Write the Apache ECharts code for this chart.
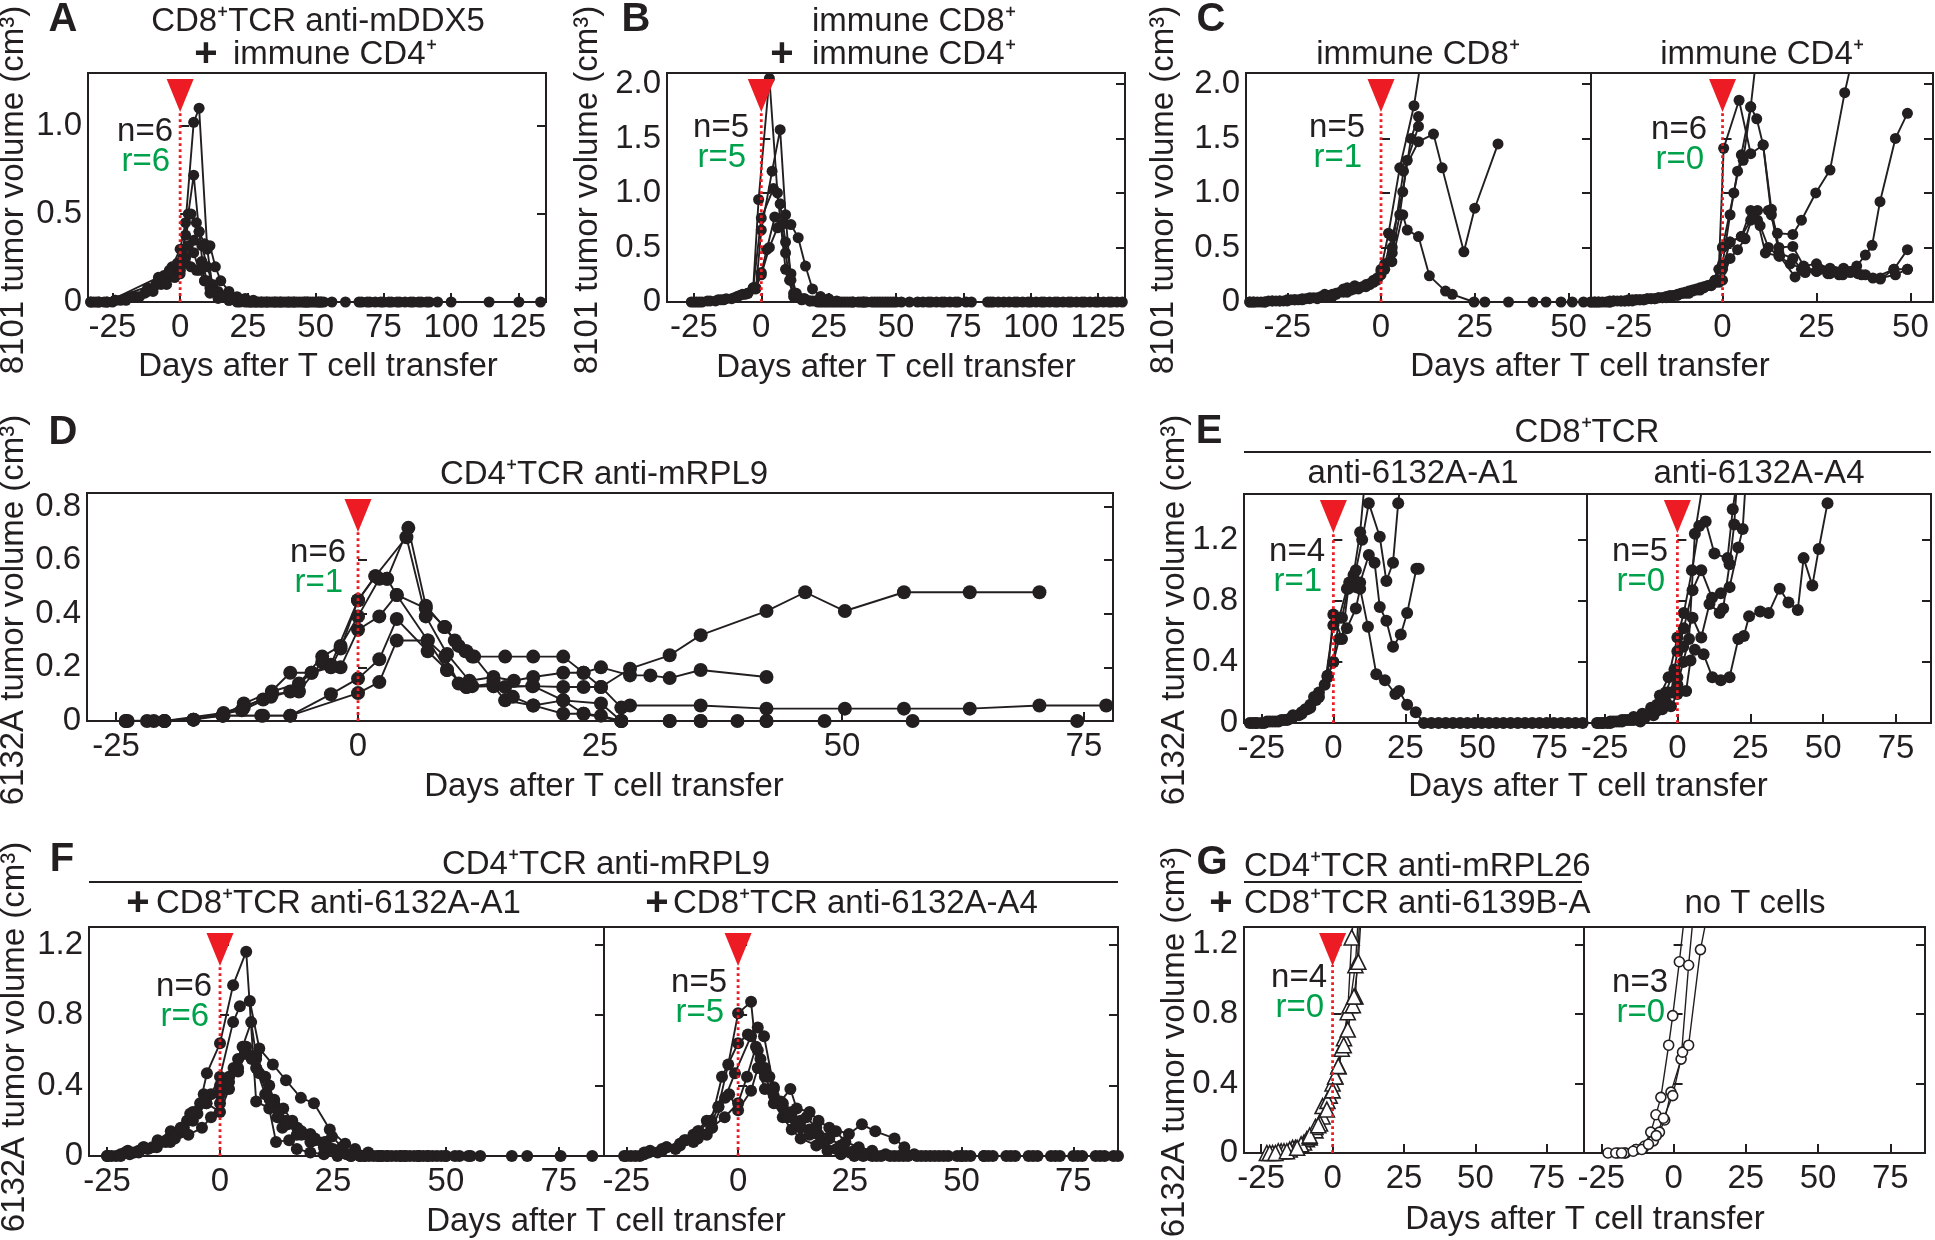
<!DOCTYPE html>
<html>
<head>
<meta charset="utf-8">
<title>Tumor volume after T cell transfer</title>
<script src="https://cdn.jsdelivr.net/npm/echarts@6/dist/echarts.min.js"></script>
<style>
  html, body { margin: 0; padding: 0; background: #fff; }
  #main { width: 1935px; height: 1240px; }
</style>
</head>
<body>
<div id="main"></div>
<script>
const chart = echarts.init(document.getElementById('main'));

const FONT = '"Liberation Sans", Arial, Helvetica, sans-serif';
const INK = '#231f20';
const RED = '#ed1c24';
const GREEN = '#00a14b';

// x ticks (days after transfer)
const daysLong = [-25, 0, 25, 50, 75, 100, 125];
const daysShort = [-25, 0, 25, 50];
const daysMid = [-25, 0, 25, 50, 75];

// y ticks (cm3)
const volA = [0, 0.5, 1.0];
const volBC = [0, 0.5, 1.0, 1.5, 2.0];
const volD = [0, 0.2, 0.4, 0.6, 0.8];
const volEFG = [0, 0.4, 0.8, 1.2];

// one row per mouse: [day, tumor volume cm3]
const miceA = [
  [[-33,0],[-30,0],[-24,0.01],[-20,0.02],[-16,0.03],[-13,0.05],[-9,0.1],[-6,0.15],[-3,0.2],[0,0.3],[2,0.45],[5,1.02],[7,1.1],[10,0.3],[12,0.08],[15,0.03],[18,0.01],[22,0],[27,0],[32,0],[37,0],[42,0],[47,0],[52,0],[61,0],[66,0],[70,0],[74,0],[78,0],[81,0],[85,0],[89,0],[92,0],[95,0],[100,0],[114,0],[125,0],[133,0]],
  [[-32,0],[-27,0],[-22,0.01],[-17,0.03],[-12,0.08],[-8,0.13],[-4,0.18],[-1,0.22],[1,0.3],[3,0.5],[5,0.72],[7,0.4],[9,0.12],[11,0.05],[14,0.02],[18,0.01],[21,0],[24,0],[28,0],[31,0],[34,0],[38,0],[41,0],[44,0],[48,0],[51,0]],
  [[-31,0],[-24,0.01],[-18,0.03],[-12,0.06],[-7,0.1],[-3,0.15],[0,0.2],[2,0.38],[4,0.5],[6,0.45],[8,0.32],[10,0.2],[12,0.1],[14,0.06],[17,0.04],[20,0.02],[23,0.01],[26,0],[29,0],[33,0],[36,0],[40,0],[43,0],[46,0],[49,0],[53,0],[67,0],[69,0],[72,0],[75,0],[77,0]],
  [[-33,0],[-27,0],[-8,0.14],[-4,0.16],[0,0.18],[2,0.25],[5,0.35],[7,0.4],[9,0.33],[11,0.32],[13,0.2],[15,0.12],[18,0.06],[21,0.03],[24,0.02],[27,0.01],[30,0],[35,0],[39,0],[45,0],[50,0],[80,0],[83,0],[86,0],[88,0],[91,0]],
  [[-28,0],[-6,0.12],[-2,0.14],[0,0.16],[1,0.25],[3,0.32],[5,0.28],[7,0.18],[9,0.12],[11,0.08],[14,0.05],[17,0.03],[20,0.02],[25,0],[28,0],[32,0],[37,0],[42,0],[47,0],[52,0]],
  [[-30,0],[-25,0],[-20,0.01],[-15,0.03],[-10,0.06],[-5,0.1],[-2,0.14],[0,0.18],[2,0.22],[4,0.2],[6,0.18],[8,0.23],[10,0.12],[12,0.06],[15,0.03],[19,0.02],[23,0.01],[26,0],[30,0],[35,0],[40,0],[46,0],[51,0],[56,0]]
];

const miceB = [
  [[-26,0],[-19,0.01],[-14,0.02],[-9,0.05],[-5,0.08],[-3,0.13],[-1,0.94],[3,2.05],[6,1.0],[9,0.3],[12,0.05],[15,0.02],[18,0.01],[22,0],[26,0],[30,0],[34,0],[38,0],[42,0],[46,0],[50,0]],
  [[-24,0],[-17,0.01],[-11,0.03],[-6,0.07],[-2,0.12],[0,0.66],[4,1.2],[7,1.58],[9,0.8],[11,0.2],[13,0.06],[16,0.03],[20,0.01],[24,0],[29,0],[34,0],[39,0],[44,0],[49,0],[58,0],[63,0],[68,0],[73,0],[78,0],[85,0],[90,0],[95,0],[100,0],[105,0],[110,0],[115,0],[120,0],[125,0],[130,0]],
  [[-22,0],[-15,0.02],[-8,0.06],[-3,0.13],[0,0.77],[4.5,1.04],[7,0.9],[9,0.55],[11,0.26],[13,0.08],[16,0.03],[19,0.01],[23,0],[27,0],[31,0],[36,0],[41,0],[47,0],[52,0],[60,0],[65,0],[70,0],[76,0],[86,0],[92,0],[97,0],[102,0],[107,0],[112,0],[117,0],[122,0],[127,0],[132,0]],
  [[-25,0],[-20,0.01],[-13,0.03],[-7,0.07],[-3,0.12],[0,0.27],[2,0.48],[5,0.78],[7.5,0.71],[9,0.45],[10.5,0.2],[12,0.08],[15,0.03],[18,0.01],[21,0],[25,0],[28,0],[32,0],[37,0],[43,0],[48,0],[55,0],[62,0],[67,0],[72,0],[84,0],[88,0],[94,0],[99,0],[104,0],[109,0],[114,0],[119,0],[124,0],[129,0],[134,0]],
  [[-23,0],[-16,0.02],[-10,0.04],[-5,0.08],[-2,0.13],[0,0.25],[3,0.5],[6,0.68],[8.5,0.72],[11,0.71],[13.7,0.59],[16.4,0.33],[19,0.12],[22,0.05],[25,0.03],[28,0.01],[33,0],[38,0],[45,0]]
];

const miceC8 = [
  [[-35,0],[-32,0],[-29,0.01],[-26,0.01],[-23,0.02],[-20,0.03],[-17,0.04],[-14,0.06],[-11,0.09],[-8,0.11],[-5,0.14],[-2,0.2],[0,0.3],[2,0.63],[5,1.23],[8.8,1.8],[11.5,2.4]],
  [[-34,0],[-31,0],[-28,0.01],[-25,0.02],[-22,0.02],[-19,0.04],[-16,0.05],[-13,0.07],[-10,0.12],[-7,0.15],[-4,0.16],[-1,0.22],[1,0.35],[3,0.6],[5.8,1.01],[8,1.5],[10,1.7]],
  [[-33,0],[-30,0.01],[-27,0.01],[-24,0.02],[-21,0.03],[-18,0.04],[-15,0.07],[-12,0.08],[-9,0.13],[-6,0.13],[-3,0.17],[0,0.25],[3,0.5],[6,1.2],[10,1.47],[14,1.54],[16.3,1.23],[22.1,0.46],[25,0.86],[31.2,1.45]],
  [[-35,0],[-31,0],[-27,0.01],[-23,0.02],[-19,0.03],[-15,0.05],[-12,0.07],[-9,0.09],[-6,0.12],[-3,0.16],[-1,0.2],[1,0.3],[2.9,0.37],[5.8,0.8],[7,0.66],[10,0.6],[12.9,0.24],[17.2,0.1],[19,0.07],[24.8,0],[27.7,0],[34,0],[40.5,0],[44,0],[48,0],[51,0],[54,0]],
  [[-34,0],[-29,0.01],[-25,0.01],[-21,0.02],[-17,0.03],[-13,0.05],[-10,0.09],[-7,0.12],[-4,0.14],[-2,0.18],[0,0.28],[3,0.45],[5,0.8],[7,1.3],[10,1.61]]
];

const miceC4 = [
  [[-35,0],[-32,0],[-29,0.01],[-26,0.01],[-23,0.02],[-20,0.03],[-17,0.04],[-14,0.05],[-11,0.08],[-8,0.11],[-5,0.14],[-2,0.2],[0,0.5],[3,1.0],[5,1.35],[7.5,1.79],[9.5,2.4]],
  [[-34,0],[-30,0],[-27,0.01],[-24,0.02],[-21,0.02],[-18,0.03],[-15,0.05],[-12,0.07],[-9,0.1],[-6,0.13],[-3,0.16],[-1,0.3],[0.3,1.41],[4.4,1.85],[7.5,1.36],[10.8,1.44],[13,0.8],[15,0.45],[18.7,0.4],[21,0.3],[25,0.28],[28.6,0.26],[32,0.25],[36,0.26],[40,0.22],[45.6,0.3],[49.2,0.3]],
  [[-33,0],[-29,0.01],[-25,0.01],[-22,0.02],[-19,0.03],[-16,0.04],[-13,0.06],[-10,0.08],[-7,0.11],[-4,0.15],[-2,0.2],[0,0.35],[2,0.8],[4,1.2],[5.5,1.3],[7.5,1.79],[9.1,1.68],[10.8,1.44],[13,0.85],[15,0.5],[18.7,0.51],[21.6,0.33],[25,0.35],[28.6,0.31],[32.2,0.31],[35.7,0.33],[38,0.43],[39.8,0.52],[41.9,0.92],[46,1.5],[49.2,1.73]],
  [[-35,0],[-31,0],[-28,0.01],[-25,0.02],[-22,0.02],[-19,0.03],[-16,0.04],[-13,0.06],[-10,0.09],[-7,0.12],[-4,0.15],[-1,0.2],[0,0.3],[2,0.55],[5,0.6],[7.5,0.84],[9.3,0.84],[12.2,0.84],[14.6,0.63],[18.7,0.62],[21,0.75],[24.8,1.0],[28.6,1.21],[32.5,1.92],[35,2.3]],
  [[-34,0],[-30,0.01],[-26,0.01],[-23,0.02],[-20,0.03],[-17,0.04],[-14,0.06],[-11,0.08],[-8,0.1],[-5,0.13],[-2,0.18],[0,0.5],[2,0.55],[5,0.6],[7.5,0.75],[9.3,0.75],[11.4,0.45],[15.2,0.42],[19.3,0.23],[22,0.27],[25,0.28],[28,0.26],[31,0.25],[34,0.27],[37,0.25],[42,0.21],[45.6,0.3],[49.2,0.48]],
  [[-33,0],[-30,0],[-27,0.01],[-24,0.01],[-21,0.02],[-18,0.03],[-15,0.04],[-12,0.06],[-9,0.08],[-6,0.11],[-3,0.15],[-1,0.18],[0,0.2],[2,0.4],[4,0.48],[6,0.58],[8,0.78],[10,0.7],[12.2,0.5],[15,0.42],[18,0.35],[22,0.3],[26,0.3],[30,0.28],[34,0.28],[38,0.25],[42,0.22],[46,0.25],[49.2,0.3]]
];

const miceD = [
  [[-24,0],[-20,0],[-14,0.02],[-10,0.02],[-7,0.02],[0,0.104],[2.2,0.145],[4,0.3],[7.2,0.3],[9.2,0.19],[11.2,0.127],[14,0.13],[18,0.13],[21.2,0.127],[23.3,0.127],[25.1,0.127],[28.1,0.195],[32.2,0.245],[35.4,0.32],[42.2,0.41],[46.2,0.48],[50.3,0.41],[56.4,0.48],[63.2,0.48],[70.4,0.48]],
  [[-21.8,0],[-17,0.005],[-13.9,0.02],[-11.8,0.065],[-8.9,0.11],[-6.1,0.14],[-3.7,0.24],[-1.8,0.28],[0,0.39],[2.2,0.53],[3,0.53],[5.2,0.72],[7,0.43],[8.9,0.35],[10,0.3],[11.1,0.26],[11.8,0.24],[15.2,0.24],[18.1,0.24],[21.2,0.24],[23.3,0.18],[25.1,0.2],[28.1,0.17],[30.2,0.17],[32.2,0.16],[35.4,0.19],[42.2,0.164]],
  [[-23.8,0],[-20,0],[-13.9,0.03],[-9.8,0.08],[-7,0.18],[-4.8,0.18],[-2.8,0.21],[0,0.45],[1.8,0.54],[5,0.685],[7,0.39],[9.2,0.25],[11.5,0.15],[14,0.164],[16.1,0.15],[18.1,0.164],[21.2,0.18],[23.3,0.18],[25.1,0.127],[27.2,0.05],[28.1,0.058],[35.4,0.058],[42.2,0.046],[50.3,0.046],[56.4,0.046],[63.2,0.046],[70.4,0.058],[77.3,0.058]],
  [[-21.1,0],[-17,0.005],[-11.8,0.05],[-8.9,0.1],[-6.1,0.11],[-3.7,0.22],[-1.8,0.2],[0,0.34],[2.2,0.39],[4,0.47],[7.2,0.3],[9,0.24],[10.4,0.14],[11.8,0.13],[14,0.13],[15.2,0.077],[18.1,0.058],[21.2,0.077],[23.3,0.027],[27.2,0],[32.2,0],[35.4,0],[39.2,0],[42.2,0],[48.2,0]],
  [[-20,0],[-14,0.02],[-9.8,0.02],[-7,0.02],[-2.8,0.1],[0,0.158],[2.2,0.23],[4,0.38],[7.2,0.26],[9.2,0.19],[11.2,0.127],[14,0.14],[15.2,0.127],[18.1,0.13],[21.2,0.077],[25.1,0.065],[27.2,0],[32.2,0],[35.4,0],[42.2,0],[57.3,0],[74.3,0]],
  [[-24,0],[-17,0.005],[-12,0.04],[-9,0.09],[-7,0.11],[-4.8,0.18],[-2.8,0.2],[-1.8,0.27],[0,0.45],[1.8,0.54],[3,0.53],[4,0.47],[7,0.42],[9,0.35],[10.4,0.28],[11.2,0.26],[12,0.24],[14,0.15],[16,0.09],[18.1,0.058],[21.2,0.027],[23.3,0.027],[25.1,0.02],[27.2,0]]
];

const miceEA1 = [
  [[-29,0],[-25,0],[-21,0.01],[-17,0.02],[-14,0.04],[-11,0.07],[-8,0.12],[-5,0.2],[-2,0.3],[0,0.4],[2,0.69],[4.7,0.88],[7,0.97],[9.3,1.25],[11,1.6]],
  [[-28,0],[-24,0],[-20,0.01],[-16,0.02],[-12,0.05],[-9,0.09],[-6,0.15],[-3,0.25],[0,0.64],[3,0.69],[5.5,0.92],[7.8,1.0],[10,1.2],[12.3,1.44],[16.1,1.22],[18.4,0.93],[20.7,1.05],[22.5,1.44],[24,1.7]],
  [[-27,0],[-23,0.01],[-19,0.01],[-15,0.03],[-11,0.06],[-8,0.1],[-5,0.17],[-2,0.31],[0,0.71],[3,0.55],[5.2,0.88],[7.8,0.89],[9.3,0.92],[12.3,1.1],[14.3,1.05],[16.1,0.76],[18.4,0.67],[20.7,0.5],[23.4,0.58],[25.6,0.72],[28.8,1.01],[29.6,1.01]],
  [[-26.5,0],[-22,0.01],[-18,0.02],[-14,0.05],[-9.7,0.09],[-6.7,0.17],[-2,0.31],[0,0.4],[2,0.55],[4.7,0.62],[7.8,0.75],[9.3,0.88],[12,0.63],[14.9,0.32],[17.9,0.28],[21.5,0.19],[22.8,0.21],[25.6,0.12],[28.6,0.07],[31.4,0],[34,0],[36.5,0],[39,0],[41.5,0],[44,0],[46.5,0],[49,0],[51.5,0],[54,0],[56.5,0],[59,0],[61.5,0],[64,0],[66.5,0],[69,0],[71.5,0],[74,0],[76.5,0],[79,0],[81.5,0],[84,0],[86.5,0]]
];

const miceEA4 = [
  [[-27.6,0],[-23,0.01],[-19,0.02],[-15,0.04],[-12,0.06],[-9,0.1],[-6,0.18],[-3,0.3],[0,0.56],[2.2,0.72],[5,1.0],[7.5,1.29],[9.7,1.32],[12.7,1.11],[17.2,1.08],[19,1.4],[20.5,1.6]],
  [[-26,0],[-22,0.01],[-18,0.02],[-14,0.03],[-10,0.06],[-7,0.12],[-4,0.2],[-1,0.35],[0,0.47],[2.2,0.62],[5.2,0.87],[8.2,1.0],[11.9,0.82],[14.9,0.85],[17.9,0.89],[20.9,1.15],[22.4,1.27],[23.5,1.6]],
  [[-25.4,0],[-21,0.01],[-17,0.02],[-13,0.03],[-9,0.07],[-6,0.12],[-3,0.2],[0,0.3],[2,0.5],[5.2,0.69],[8.2,0.56],[11,0.78],[14.5,0.72],[15.7,0.75],[17.9,1.04],[19.5,1.3],[20.5,1.6]],
  [[-24,0],[-20,0.01],[-16,0.02],[-12.7,0.01],[-8.2,0.05],[-5.2,0.09],[-2.2,0.11],[0,0.19],[3,0.21],[4.5,0.41],[6,0.48],[9,0.45],[12,0.3],[14.9,0.28],[17.9,0.3],[20.9,0.55],[22.8,0.57],[24.6,0.7],[28.4,0.73],[31.3,0.72],[35.1,0.88],[38.1,0.79],[41.3,0.74],[43.3,1.08],[46.3,0.9],[48.5,1.14],[51.5,1.44]],
  [[-27,0],[-23,0],[-19,0.01],[-15,0.02],[-11,0.04],[-7,0.08],[-4,0.14],[-2,0.2],[0,0.25],[2,0.4],[4,0.55],[6,1.24],[9,1.6]]
];

const miceFA1 = [
  [[-25,0],[-21,0.02],[-17,0.05],[-13.8,0.09],[-10.9,0.14],[-7.3,0.2],[-4.4,0.3],[-2.9,0.47],[0,0.64],[2.9,0.97],[5.8,1.16],[8,0.31],[10.9,0.27],[12.4,0.08],[15.3,0.09],[17,0.04],[20,0.02],[23,0.01],[26,0],[29,0],[32,0],[35,0],[38,0],[41,0],[44,0],[47,0],[50,0],[53,0],[55.5,0],[57.6,0]],
  [[-24,0],[-20,0.01],[-16,0.04],[-12,0.08],[-9,0.13],[-6,0.2],[-3,0.3],[0,0.45],[2.9,0.76],[4.4,0.85],[6.6,0.88],[8.7,0.61],[11.7,0.52],[14.6,0.43],[17.9,0.33],[20.8,0.3],[24.3,0.15],[27.7,0.07],[29.9,0.04],[32.8,0.02],[35.7,0],[40,0],[45,0],[50,0],[55,0],[64.6,0],[68,0],[75.4,0],[82.4,0]],
  [[-23,0],[-19,0.02],[-15,0.05],[-11,0.1],[-8,0.16],[-5,0.24],[-2,0.35],[0,0.4],[3,0.5],[5,0.62],[6.9,0.76],[8,0.57],[10.9,0.4],[12.7,0.22],[13.8,0.16],[17.1,0.16],[20,0.125],[23.3,0.08],[25,0.04],[28,0.01],[31,0],[34,0],[37,0],[41,0],[44,0],[48,0],[52,0]],
  [[-25,0],[-22,0.01],[-18,0.03],[-14,0.06],[-10,0.12],[-6.6,0.24],[-3.6,0.35],[0,0.35],[2,0.45],[4,0.55],[5.8,0.62],[8,0.5],[10,0.35],[12,0.3],[14,0.27],[16,0.2],[18,0.14],[21,0.1],[24.8,0.11],[27,0.05],[30,0.02],[33,0],[36,0],[39,0],[43,0],[46,0],[49,0]],
  [[-22,0],[-18,0.02],[-14,0.05],[-11,0.08],[-8.7,0.16],[-6,0.25],[-3,0.3],[0,0.25],[2,0.38],[4,0.5],[6,0.58],[8,0.55],[10,0.45],[12,0.32],[14.6,0.2],[17,0.12],[20,0.08],[23,0.05],[26,0.02],[29,0],[32,0],[37,0],[42,0],[46,0]],
  [[-24.8,0],[-20.4,0.03],[-16.8,0.05],[-13,0.08],[-10,0.1],[-7,0.12],[-4,0.16],[-2,0.22],[0,0.3],[2,0.42],[4,0.48],[5.5,0.58],[7,0.55],[8.7,0.47],[11,0.32],[13,0.25],[15,0.18],[18,0.12],[21,0.09],[24,0.05],[27,0.02],[31,0],[35,0],[40,0],[44,0]]
];

const miceFA4 = [
  [[-25.5,0],[-21,0.02],[-17,0.04],[-13,0.07],[-10,0.12],[-7,0.2],[-4.4,0.28],[-2.2,0.52],[0,0.81],[2.9,0.875],[4.4,0.5],[6,0.38],[8,0.3],[10,0.22],[12,0.15],[14,0.1],[17.5,0.06],[20,0.03],[23,0.01],[26,0],[30,0],[35,0],[40,0],[45,0],[50,0],[55,0],[60,0],[65,0],[70,0],[75,0],[80,0],[84,0]],
  [[-24,0],[-20,0.02],[-16,0.05],[-12,0.09],[-9,0.14],[-6,0.2],[-3.6,0.45],[0,0.64],[2.2,0.69],[4.4,0.73],[5.8,0.68],[8,0.39],[9.5,0.31],[11.7,0.38],[13.1,0.27],[16,0.25],[18,0.2],[20.4,0.16],[24.8,0.125],[27.7,0.18],[30.7,0.14],[35,0.1],[37.2,0.05],[39.4,0.01],[42,0],[47,0],[52,0],[57,0],[62,0],[67,0],[72,0],[77,0],[82,0]],
  [[-23,0],[-19.7,0.03],[-16,0.05],[-11.7,0.09],[-8.8,0.14],[-5.8,0.16],[-2.9,0.33],[-0.7,0.47],[2.9,0.68],[4.4,0.6],[6,0.45],[8,0.34],[10,0.28],[12,0.25],[14,0.2],[16,0.15],[18,0.12],[21.9,0.14],[24,0.08],[27,0.05],[30,0.03],[33,0.01],[36,0],[41,0],[46,0],[51,0],[56,0],[61,0],[66,0],[71,0],[76,0],[81,0],[85,0]],
  [[-22,0],[-18,0.02],[-14,0.04],[-10,0.08],[-7,0.12],[-4.4,0.28],[-2,0.35],[0,0.26],[2.9,0.37],[5,0.55],[7,0.45],[9,0.3],[11,0.22],[13,0.18],[15.3,0.22],[17.5,0.16],[20.4,0.1],[23,0.06],[26,0.03],[29,0.01],[32,0],[37,0],[43,0],[49,0],[55,0]],
  [[-25,0],[-21,0.01],[-17,0.03],[-13,0.06],[-9,0.1],[-6,0.16],[-3,0.22],[0,0.3],[2,0.45],[4,0.62],[6,0.5],[8,0.38],[10,0.3],[12,0.22],[14,0.16],[16,0.12],[19,0.08],[22,0.04],[25,0.02],[28,0],[31,0],[34,0],[38,0],[44,0],[50,0]]
];

const miceGCombo = [
  [[-23,0],[-18,0.01],[-14,0.03],[-10,0.06],[-6,0.13],[-3.5,0.21],[-1,0.33],[1,0.44],[3.2,0.6],[5.3,0.81],[6.7,1.24],[8,1.5]],
  [[-21,0],[-17,0.01],[-13,0.03],[-9,0.08],[-6,0.15],[-3.5,0.27],[0,0.4],[2.1,0.5],[4,0.66],[6,0.85],[8,1.08],[9.5,1.5]],
  [[-22,0],[-19,0.01],[-15,0.02],[-11,0.05],[-8,0.09],[-4.4,0.17],[-1.8,0.3],[0.9,0.44],[3.9,0.62],[7.1,0.85],[8,0.9],[10,1.5]],
  [[-20,0],[-16,0.01],[-12.4,0.03],[-8,0.1],[-5,0.16],[-2,0.25],[0,0.36],[2,0.5],[5.3,0.71],[7.5,0.9],[9,1.1],[10.5,1.5]]
];

const miceGNone = [
  [[-22.7,0],[-19.2,0],[-16.6,0],[-13,0.02],[-10.5,0.03],[-7.9,0.12],[-6.1,0.22],[-4.4,0.32],[-1.7,0.62],[-0.3,0.79],[2,1.1],[4,1.4]],
  [[-20,0],[-17,0],[-13,0.02],[-10,0.04],[-7,0.07],[-4.9,0.12],[-3.1,0.19],[-0.9,0.35],[2.6,0.54],[5.2,1.08],[7,1.4]],
  [[-18,0],[-14,0.01],[-11,0.02],[-8.7,0.05],[-6,0.1],[-3.5,0.2],[-0.3,0.33],[3.1,0.58],[5.2,0.62],[9.3,1.17],[12,1.4]]
];

// mice treated / mice rejecting
const countsN = [6, 5, 5, 6, 6, 4, 5, 6, 5, 4, 3];
const countsR = [6, 5, 1, 0, 1, 1, 0, 6, 5, 0, 0];

// panel layout (pixels), one entry per plot box
const panels = [
  { mice: miceA, left: 88, top: 73, width: 458, height: 229, x: [-34, 135], xTicks: daysLong, yMax: 1.3, yTicks: volA, yLabels: true, nr: [173, 132], dot: 11 },
  { mice: miceB, left: 667, top: 73, width: 458, height: 229, x: [-35, 135], xTicks: daysLong, yMax: 2.1, yTicks: volBC, yLabels: true, nr: [749, 128], dot: 11 },
  { mice: miceC8, left: 1246, top: 73, width: 345, height: 229, x: [-36, 56], xTicks: daysShort, yMax: 2.1, yTicks: volBC, yLabels: true, nr: [1365, 128], dot: 11 },
  { mice: miceC4, left: 1591, top: 73, width: 342, height: 229, x: [-35, 56], xTicks: daysShort, yMax: 2.1, yTicks: volBC, yLabels: false, nr: [1707, 130], dot: 11 },
  { mice: miceD, left: 87, top: 493, width: 1026, height: 228, x: [-28, 78], xTicks: daysMid, yMax: 0.85, yTicks: volD, yLabels: true, nr: [346, 553], dot: 14 },
  { mice: miceEA1, left: 1244, top: 494, width: 343, height: 229, x: [-31, 88], xTicks: daysMid, yMax: 1.5, yTicks: volEFG, yLabels: true, nr: [1325, 552], dot: 12 },
  { mice: miceEA4, left: 1587, top: 494, width: 344, height: 229, x: [-31, 87], xTicks: daysMid, yMax: 1.5, yTicks: volEFG, yLabels: false, nr: [1668, 552], dot: 12 },
  { mice: miceFA1, left: 89, top: 927, width: 515, height: 229, x: [-29, 85], xTicks: daysMid, yMax: 1.3, yTicks: volEFG, yLabels: true, nr: [212, 987], dot: 12 },
  { mice: miceFA4, left: 604, top: 927, width: 514, height: 229, x: [-30, 85], xTicks: daysMid, yMax: 1.3, yTicks: volEFG, yLabels: false, nr: [727, 983], dot: 12 },
  { mice: miceGCombo, left: 1244, top: 927, width: 340, height: 226, x: [-31, 88], xTicks: daysMid, yMax: 1.3, yTicks: volEFG, yLabels: true, nr: [1327, 978], dot: 15, open: 'triangle' },
  { mice: miceGNone, left: 1584, top: 927, width: 341, height: 226, x: [-31, 87], xTicks: daysMid, yMax: 1.3, yTicks: volEFG, yLabels: false, nr: [1668, 983], dot: 10, open: 'circle', noArrow: true }
];

const grid = [], xAxis = [], yAxis = [], series = [], graphic = [];

function txt(x, y, s, opts) {
  opts = opts || {};
  return {
    type: 'text', x: x, y: y, z: 100, rotation: opts.rotation || 0,
    style: {
      text: s, fill: opts.color || INK,
      fontSize: opts.size || 33, fontFamily: FONT, fontWeight: opts.bold ? 'bold' : 'normal',
      textAlign: opts.align || 'center', align: opts.align || 'center',
      textVerticalAlign: 'middle', verticalAlign: 'middle'
    }
  };
}

panels.forEach(function (p, i) {
  grid.push({ left: p.left, top: p.top, width: p.width, height: p.height, show: true,
    borderColor: INK, borderWidth: 2, backgroundColor: 'rgba(0,0,0,0)' });

  xAxis.push({
    type: 'value', gridIndex: i, min: p.x[0], max: p.x[1],
    axisLine: { show: false }, splitLine: { show: false },
    axisTick: { inside: true, length: 9, customValues: p.xTicks, lineStyle: { color: INK, width: 2 } },
    axisLabel: { customValues: p.xTicks, margin: 9, fontSize: 33, fontFamily: FONT, color: INK }
  });

  const yTick = { inside: true, length: 9, customValues: p.yTicks, lineStyle: { color: INK, width: 2 } };
  yAxis.push({
    type: 'value', gridIndex: i, min: 0, max: p.yMax, position: 'left',
    axisLine: { show: false }, splitLine: { show: false }, axisTick: yTick,
    axisLabel: { show: p.yLabels, customValues: p.yTicks, margin: 6, fontSize: 33, fontFamily: FONT, color: INK,
      formatter: function (v) { return v === 0 ? '0' : v.toFixed(1); } }
  });
  yAxis.push({
    type: 'value', gridIndex: i, min: 0, max: p.yMax, position: 'right',
    axisLine: { show: false }, splitLine: { show: false }, axisTick: yTick,
    axisLabel: { show: false }
  });
  const yi = 2 * i;

  p.mice.forEach(function (m) {
    series.push({
      type: 'line', xAxisIndex: i, yAxisIndex: yi, data: m,
      symbol: p.open || 'circle', symbolSize: p.dot, showAllSymbol: true,
      lineStyle: { color: INK, width: p.open ? 1.4 : 1.9 },
      itemStyle: p.open ? { color: '#fff', borderColor: INK, borderWidth: 1.6 } : { color: INK, borderWidth: 0 },
      emphasis: { disabled: true }, silent: true, z: 2
    });
  });

  if (!p.noArrow) {
    // transfer day marker
    series.push({
      type: 'line', xAxisIndex: i, yAxisIndex: yi,
      data: [[0, 0], [0, p.yMax * (1 - 38 / p.height)]],
      symbol: 'none', lineStyle: { color: RED, width: 2.8, type: [2.8, 3.2] }, z: 4, silent: true
    });
    series.push({
      type: 'scatter', xAxisIndex: i, yAxisIndex: yi, data: [[0, p.yMax]],
      symbol: 'path://M0,0L20,0L10,24Z', symbolSize: [27, 33], symbolOffset: [0, 22.5],
      itemStyle: { color: RED, opacity: 1 }, clip: false, z: 5, silent: true
    });
  }

  graphic.push(txt(p.nr[0], p.nr[1], 'n=' + countsN[i], { align: 'right' }));
  graphic.push(txt(p.nr[0] - 3, p.nr[1] + 30, 'r=' + countsR[i], { align: 'right', color: GREEN }));
});

// panel letters
[['A', 63, 20], ['B', 636, 20], ['C', 1211, 20], ['D', 63, 433], ['E', 1209, 432], ['F', 62, 860], ['G', 1212, 863]]
  .forEach(function (l) { graphic.push(txt(l[1], l[2], l[0], { bold: true, size: 40 })); });

// y axis titles
[['8101 tumor volume (cm³)', 14, 190], ['8101 tumor volume (cm³)', 588, 190], ['8101 tumor volume (cm³)', 1164, 190],
 ['6132A tumor volume (cm³)', 14, 610], ['6132A tumor volume (cm³)', 1175, 610],
 ['6132A tumor volume (cm³)', 15, 1037], ['6132A tumor volume (cm³)', 1175, 1042]]
  .forEach(function (t) { graphic.push(txt(t[1], t[2], t[0], { rotation: Math.PI / 2 })); });

// x axis titles
[[318, 367], [896, 368], [1590, 367], [604, 787], [1588, 787], [606, 1222], [1585, 1220]]
  .forEach(function (t) { graphic.push(txt(t[0], t[1], 'Days after T cell transfer')); });

// panel headings
graphic.push(
  txt(318, 22, 'CD8⁺TCR anti-mDDX5'),
  txt(206, 55, '+', { bold: true, size: 40 }),
  txt(233, 55, 'immune CD4⁺', { align: 'left' }),
  txt(812, 22, 'immune CD8⁺', { align: 'left' }),
  txt(782, 55, '+', { bold: true, size: 40 }),
  txt(812, 55, 'immune CD4⁺', { align: 'left' }),
  txt(1418, 55, 'immune CD8⁺'),
  txt(1762, 55, 'immune CD4⁺'),
  txt(604, 475, 'CD4⁺TCR anti-mRPL9'),
  txt(1587, 433, 'CD8⁺TCR'),
  txt(1413, 474, 'anti-6132A-A1'),
  txt(1759, 474, 'anti-6132A-A4'),
  txt(606, 865, 'CD4⁺TCR anti-mRPL9'),
  txt(138, 904, '+', { bold: true, size: 40 }),
  txt(156, 904, 'CD8⁺TCR anti-6132A-A1', { align: 'left' }),
  txt(657, 904, '+', { bold: true, size: 40 }),
  txt(673, 904, 'CD8⁺TCR anti-6132A-A4', { align: 'left' }),
  txt(1244, 867, 'CD4⁺TCR anti-mRPL26', { align: 'left' }),
  txt(1221, 904, '+', { bold: true, size: 40 }),
  txt(1244, 904, 'CD8⁺TCR anti-6139B-A', { align: 'left' }),
  txt(1755, 904, 'no T cells')
);

// heading rules
[[1244, 452, 1931], [89, 882, 1118], [1244, 882, 1582]].forEach(function (r) {
  graphic.push({ type: 'line', z: 100, shape: { x1: r[0], y1: r[1], x2: r[2], y2: r[1] }, style: { stroke: INK, lineWidth: 2 } });
});

chart.setOption({
  animation: false,
  backgroundColor: '#fff',
  textStyle: { fontFamily: FONT },
  grid: grid,
  xAxis: xAxis,
  yAxis: yAxis,
  series: series,
  graphic: graphic
});

window.addEventListener('resize', function () { chart.resize(); });
</script>
</body>
</html>
